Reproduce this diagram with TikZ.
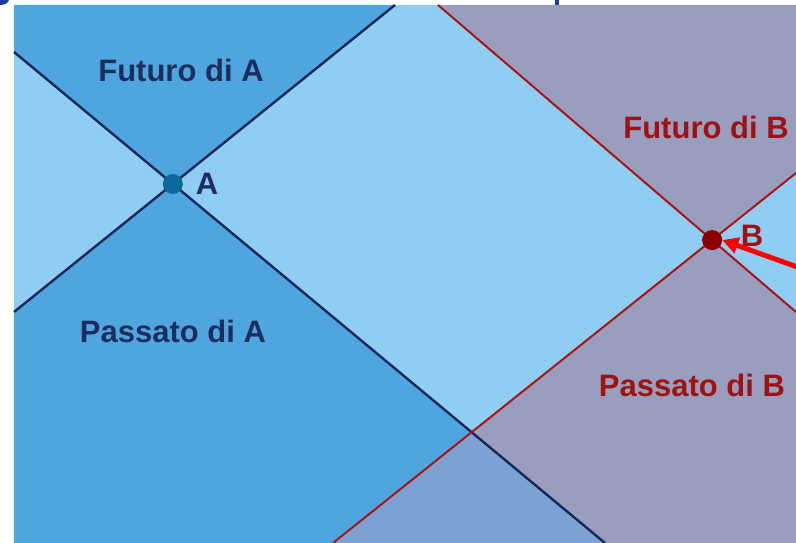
\documentclass[tikz,border=0pt]{standalone}
\usepackage{fontspec}
\setmainfont{Liberation Sans}
\usetikzlibrary{arrows.meta}
\definecolor{midblue}{RGB}{79,165,222}
\definecolor{lightblue}{RGB}{143,205,242}
\definecolor{greyviolet}{RGB}{153,158,190}
\definecolor{overlapblue}{RGB}{124,162,212}
\definecolor{navyline}{RGB}{22,40,90}
\definecolor{redline}{RGB}{170,20,20}
\definecolor{navytext}{RGB}{28,46,96}
\definecolor{redtext}{RGB}{160,18,18}
\definecolor{dotA}{RGB}{12,104,152}
\definecolor{dotB}{RGB}{140,0,0}
\definecolor{titleblue}{RGB}{30,60,160}
\tikzset{
  conelineA/.style={draw=navyline,line width=2.4pt},
  conelineB/.style={draw=redline,line width=2pt},
  labelA/.style={text=navytext,font=\bfseries\fontsize{31}{34}\selectfont,inner sep=0pt},
  labelB/.style={text=redtext,font=\bfseries\fontsize{31}{34}\selectfont,inner sep=0pt},
  eventdot/.style={circle,inner sep=0pt,minimum size=20pt}
}
\begin{document}
\begin{tikzpicture}[x=1pt,y=-1pt]
\useasboundingbox (0,0) rectangle (796,543);
\fill[white] (0,0) rectangle (796,543);
% panel corners
\coordinate (TL) at (14,5);
\coordinate (TR) at (796,5);
\coordinate (BR) at (796,543);
\coordinate (BL) at (14,543);
% light cone lines of A
\coordinate (L1a) at (14,52);
\coordinate (L1b) at (605,543);
\coordinate (L2a) at (14,312);
\coordinate (L2b) at (395,5);
% light cone lines of B
\coordinate (R1a) at (438,5);
\coordinate (R1b) at (796,312);
\coordinate (R2a) at (333,543);
\coordinate (R2b) at (796,173);
\coordinate (A) at (intersection of L1a--L1b and L2a--L2b);
\coordinate (B) at (intersection of R1a--R1b and R2a--R2b);
\coordinate (X) at (intersection of L1a--L1b and R2a--R2b);
% regions
\fill[lightblue] (TL) rectangle (BR);
\fill[midblue] (TL) -- (L2b) -- (A) -- (L1a) -- cycle;
\fill[midblue] (A) -- (L2a) -- (BL) -- (L1b) -- cycle;
\fill[greyviolet] (R1a) -- (TR) -- (R2b) -- (B) -- cycle;
\fill[greyviolet] (B) -- (R1b) -- (BR) -- (R2a) -- cycle;
\fill[overlapblue] (X) -- (L1b) -- (R2a) -- cycle;
% lines
\draw[conelineA] (L1a) -- (L1b);
\draw[conelineA] (L2a) -- (L2b);
\draw[conelineB] (R1a) -- (R1b);
\draw[conelineB] (R2a) -- (R2b);
% clipped title fragments at the top
\fill[titleblue] (0,0) -- (9,0) .. controls (8,3) and (5,5) .. (0,5) -- cycle;
\fill[titleblue] (555,0) rectangle (559,5);
% events
\node[eventdot,fill=dotA] (dA) at (A) {};
\node[eventdot,fill=dotB] (dB) at (B) {};
\node[labelA] (tA) at (207,184) {A};
\node[labelB] (tB) at (752,236) {B};
\node[labelA] (futA) at (181,70) {Futuro di A};
\node[labelA] (pasA) at (173,331) {Passato di A};
\node[labelB] (futB) at (706,127) {Futuro di B};
\node[labelB] (pasB) at (692,385) {Passato di B};
% red arrow
\coordinate (arrowstart) at (800,268);
\draw[red,line width=5pt,-{Triangle[length=16pt,width=16pt]}] (arrowstart) -- (dB.east);
\end{tikzpicture}
\end{document}
